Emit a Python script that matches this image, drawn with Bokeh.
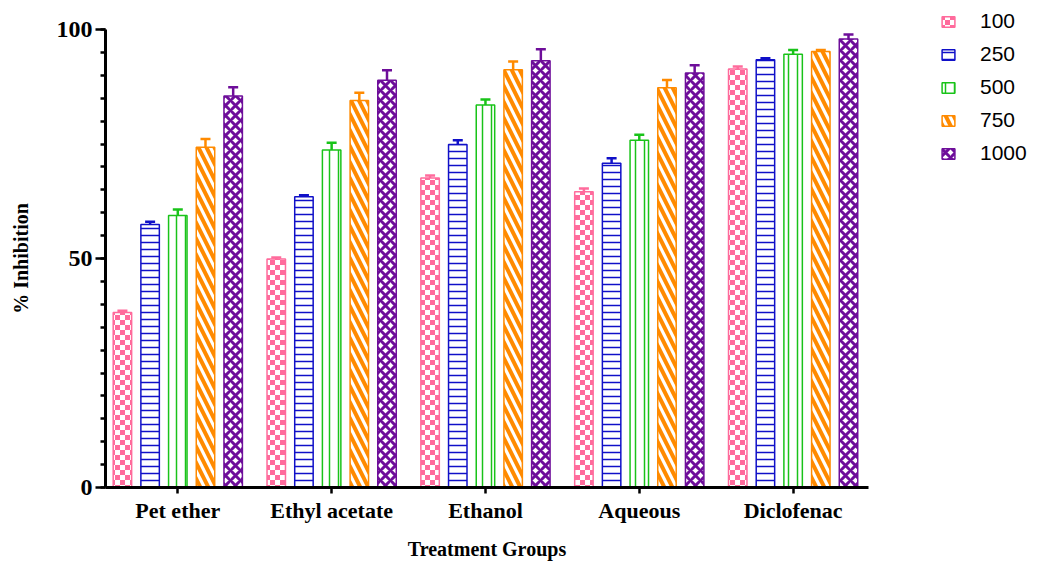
from bokeh.plotting import figure
from bokeh.models import (ColumnDataSource, Range1d, FixedTicker, SingleIntervalTicker,
                          Whisker, TeeHead, Legend, LegendItem, CanvasTexture)
from bokeh.core.properties import value
from bokeh.embed import file_html
from bokeh.resources import INLINE

groups = ["Pet ether", "Ethyl acetate", "Ethanol", "Aqueous", "Diclofenac"]
doses = ["100", "250", "500", "750", "1000"]

v100 = [38.2, 49.9, 67.6, 64.6, 91.4]
v250 = [57.4, 63.5, 74.9, 70.8, 93.4]
v500 = [59.4, 73.7, 83.5, 75.8, 94.6]
v750 = [74.3, 84.5, 91.2, 87.3, 95.2]
v1000 = [85.5, 88.9, 93.2, 90.5, 97.9]

e100 = [0.4, 0.3, 0.5, 0.7, 0.5]
e250 = [0.6, 0.3, 0.9, 1.1, 0.3]
e500 = [1.3, 1.6, 1.2, 1.2, 0.9]
e750 = [1.8, 1.7, 1.8, 1.7, 0.3]
e1000 = [1.9, 2.2, 2.5, 1.7, 1.0]

values = [v100, v250, v500, v750, v1000]
errors = [e100, e250, e500, e750, e1000]

colors = ["#FF6B9C", "#1010C8", "#19C319", "#FF8A00", "#6E0E9A"]

checker = CanvasTexture(code="""
ctx.canvas.width = 10;
ctx.canvas.height = 10;
ctx.fillStyle = "#FFFFFF";
ctx.fillRect(0, 0, 10, 10);
ctx.fillStyle = "%s";
ctx.fillRect(0, 0, 5, 5);
ctx.fillRect(5, 5, 5, 5);
""" % colors[0])

styles = [
    dict(hatch_pattern=value("checker"), hatch_extra={"checker": checker}, hatch_scale=10, hatch_weight=1),
    dict(hatch_pattern="horizontal_line", hatch_scale=7, hatch_weight=1.5),
    dict(hatch_pattern="vertical_line", hatch_scale=9, hatch_weight=1.5),
    dict(hatch_pattern="left_diagonal_line", hatch_scale=16, hatch_weight=4),
    dict(hatch_pattern="diagonal_cross", hatch_scale=10, hatch_weight=3),
]
offsets = [-0.36, -0.18, 0.0, 0.18, 0.36]
bar_w = 0.12

p = figure(frame_width=763, frame_height=458, output_backend="svg", toolbar_location=None,
           x_range=Range1d(0.03, 4.99), y_range=Range1d(0, 100),
           min_border_left=105, min_border_top=29, min_border_right=169, min_border_bottom=74)
p.outline_line_color = None
p.grid.visible = False
p.background_fill_color = "white"

items = []
for k in range(5):
    xs = [i + 0.5 + offsets[k] for i in range(len(groups))]
    src = ColumnDataSource(dict(x=xs, top=values[k],
                                upper=[v + e for v, e in zip(values[k], errors[k])]))
    r = p.vbar(x="x", top="top", width=bar_w, source=src, line_color=colors[k],
               line_width=1.5, fill_color="white", hatch_color=colors[k], **styles[k])
    w = Whisker(base="x", lower="top", upper="upper", source=src, dimension="height",
                line_color=colors[k], line_width=2.5,
                upper_head=TeeHead(size=10, line_color=colors[k], line_width=2.5),
                lower_head=None, level="overlay")
    p.add_layout(w)
    items.append(LegendItem(label=doses[k], renderers=[r]))

legend = Legend(items=items, location=(72, 322), orientation="vertical",
                glyph_width=16, glyph_height=13, label_standoff=24, spacing=9,
                padding=0, margin=0, border_line_color=None, background_fill_alpha=0,
                label_text_font="Liberation Sans", label_text_font_size="21px",
                label_text_color="black", label_height=20)
p.add_layout(legend, "right")

# x axis
xa = p.xaxis[0]
xa.ticker = FixedTicker(ticks=[i + 0.5 for i in range(len(groups))])
xa.major_label_overrides = {i + 0.5: g for i, g in enumerate(groups)}
xa.major_label_text_font = "Liberation Serif"
xa.major_label_text_font_style = "bold"
xa.major_label_text_font_size = "22px"
xa.major_label_text_color = "black"
xa.major_label_standoff = 4
xa.major_tick_in = 0
xa.major_tick_out = 6
xa.major_tick_line_width = 2.5
xa.minor_tick_line_color = None
xa.axis_line_width = 3
xa.axis_label = "Treatment Groups"
xa.axis_label_text_font = "Liberation Serif"
xa.axis_label_text_font_style = "bold"
xa.axis_label_text_font_size = "20px"
xa.axis_label_text_color = "black"
xa.axis_label_standoff = 12

ya = p.yaxis[0]
ya.ticker = SingleIntervalTicker(interval=50, num_minor_ticks=10)
ya.major_label_text_font = "Liberation Serif"
ya.major_label_text_font_style = "bold"
ya.major_label_text_font_size = "24px"
ya.major_label_text_color = "black"
ya.major_label_standoff = 3
ya.major_tick_in = 0
ya.major_tick_out = 10
ya.minor_tick_in = 0
ya.minor_tick_out = 5
ya.major_tick_line_width = 2.5
ya.minor_tick_line_width = 2.5
ya.axis_line_width = 3
ya.axis_label = "% Inhibition"
ya.axis_label_text_font = "Liberation Serif"
ya.axis_label_text_font_style = "bold"
ya.axis_label_text_font_size = "20px"
ya.axis_label_text_color = "black"
ya.axis_label_standoff = 22

open("out.html", "w").write(file_html(p, INLINE))
